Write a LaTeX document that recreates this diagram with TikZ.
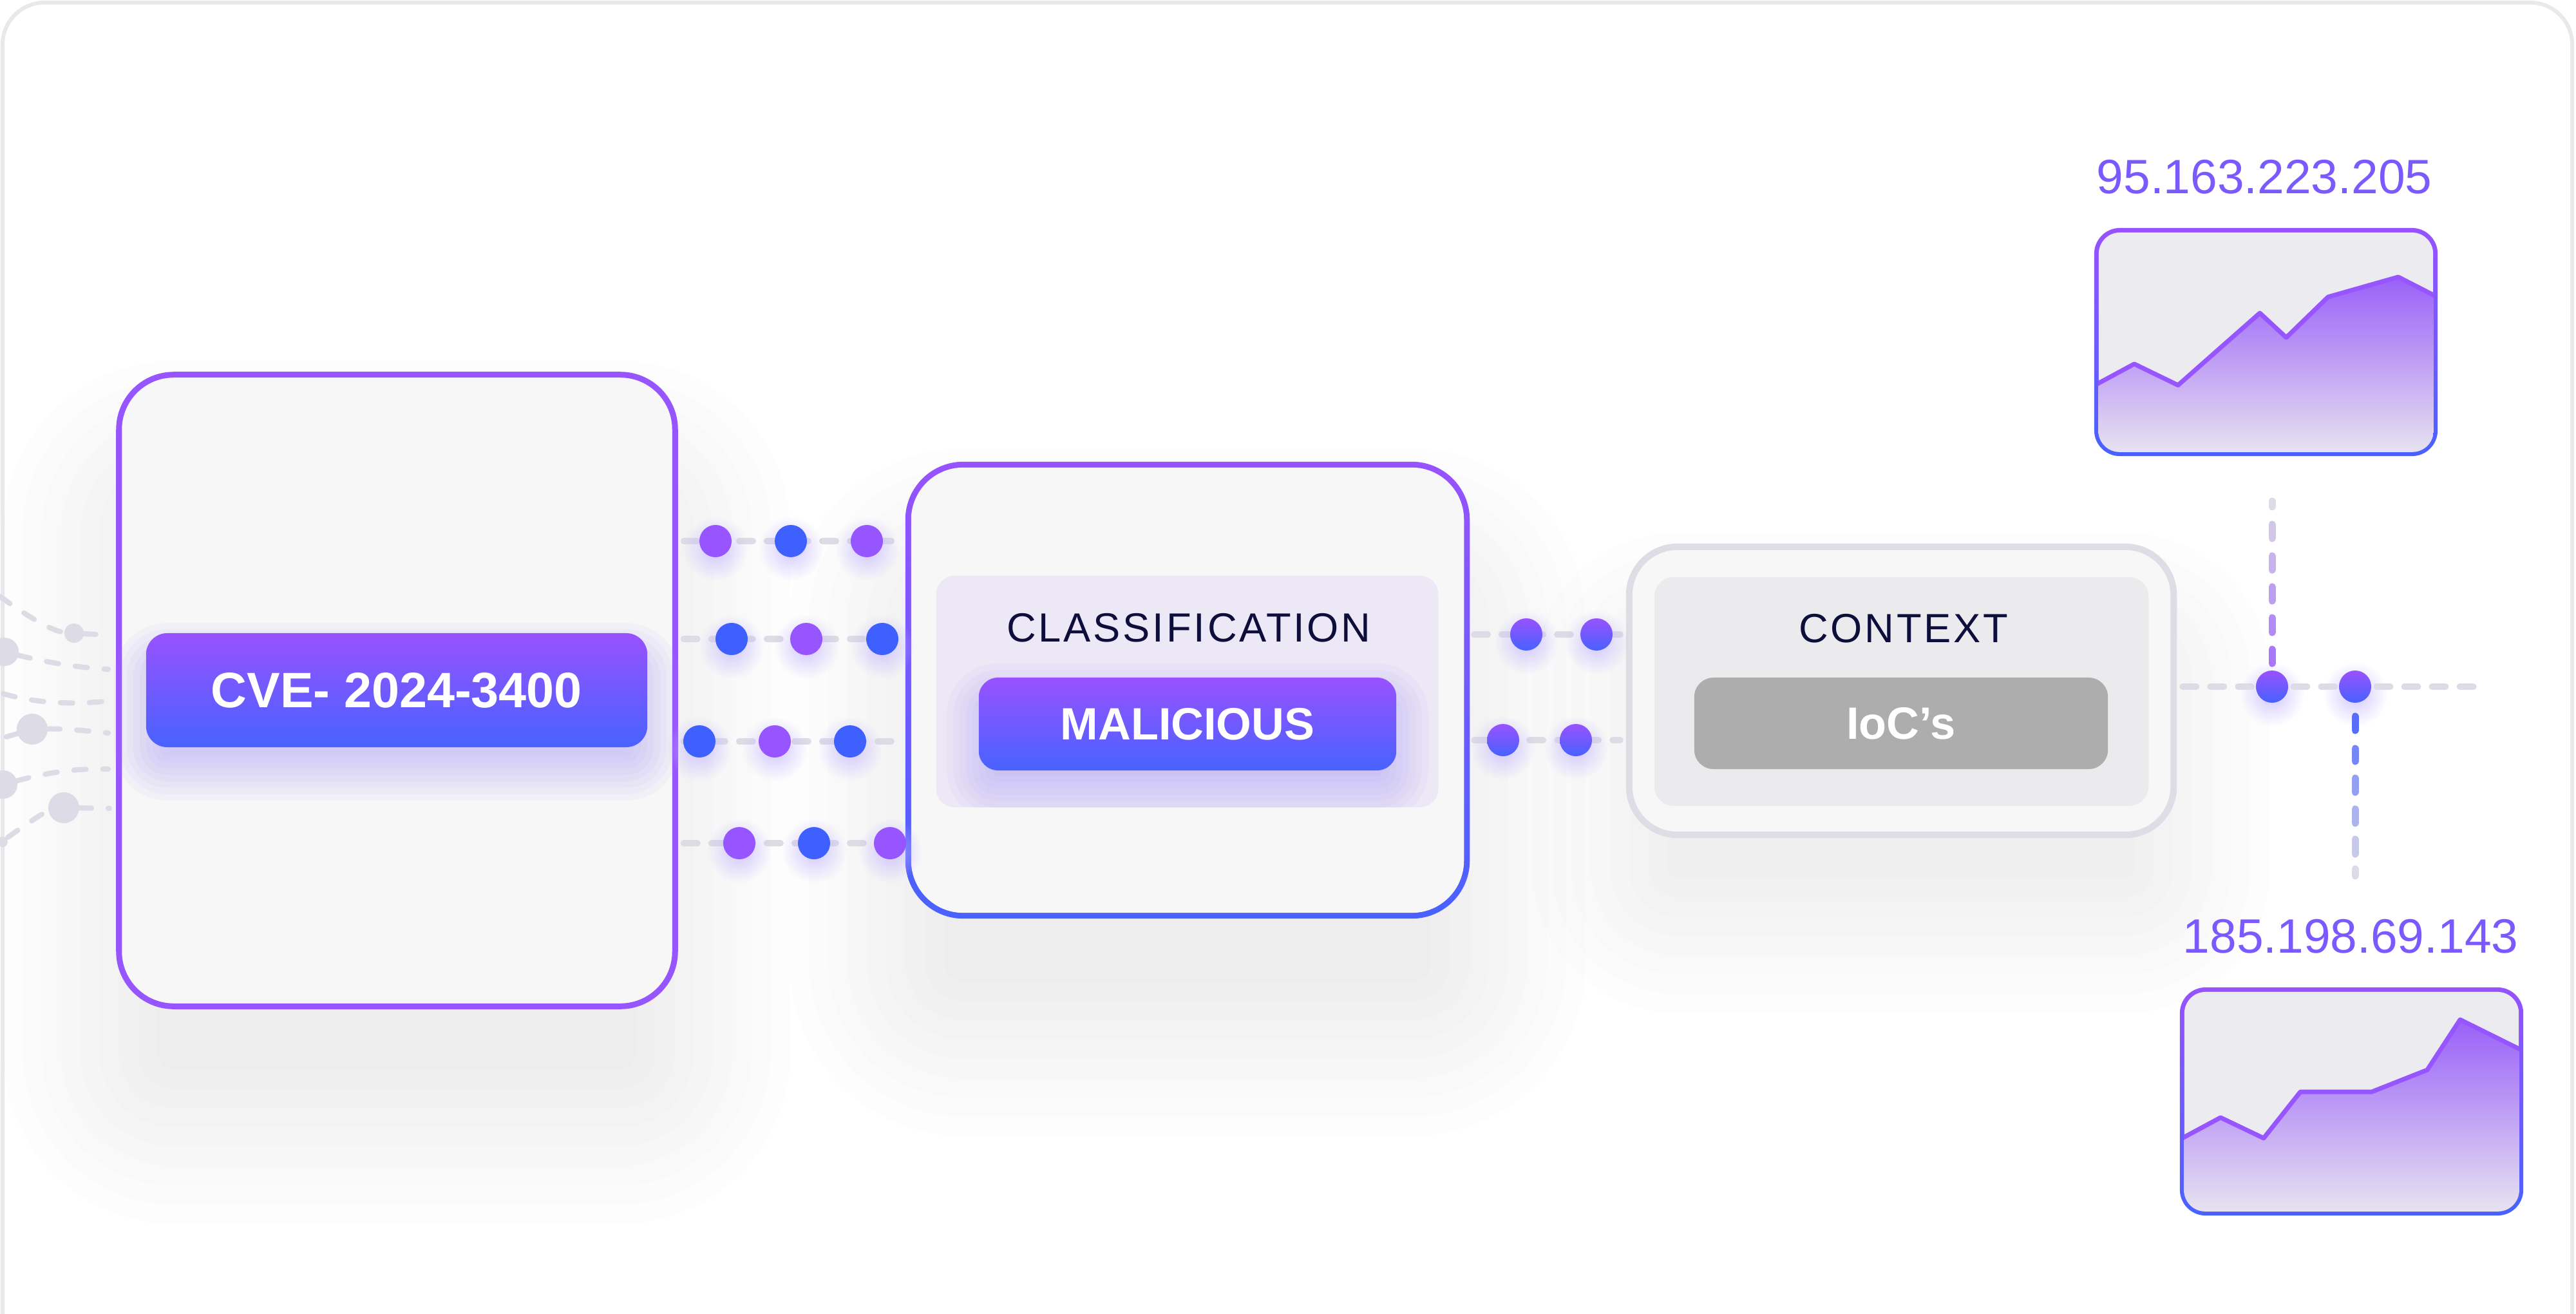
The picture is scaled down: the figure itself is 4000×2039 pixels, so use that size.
\documentclass[tikz,border=0pt]{standalone}
\usepackage{fontspec}
\setmainfont{Liberation Sans}
\usetikzlibrary{fadings,calc}

\definecolor{pv}{HTML}{9755FF}
\definecolor{pb}{HTML}{3D60FF}
\definecolor{gtop}{HTML}{9852FF}
\definecolor{gbot}{HTML}{4862FF}
\definecolor{dashgray}{HTML}{DDDBE5}
\definecolor{boxfill}{HTML}{F7F7F8}
\definecolor{panelv}{HTML}{ECE8F6}
\definecolor{panelg}{HTML}{EBEBEE}
\definecolor{ctxborder}{HTML}{DEDCE5}
\definecolor{navy}{HTML}{0E0E3C}
\definecolor{iocgray}{HTML}{ADADAD}
\definecolor{framecol}{HTML}{E9E9EC}
\definecolor{chartbg}{HTML}{ECEBF0}
\definecolor{ipcol}{HTML}{7A5AFF}
\definecolor{glowcol}{HTML}{C4B6FF}
\definecolor{pillglow}{HTML}{9C8CF5}
\definecolor{areatop}{HTML}{9A60F8}
\definecolor{areamid}{HTML}{D3C9F5}
\definecolor{shadowcol}{HTML}{8A8A99}

\tikzfading[name=glowfade, inner color=transparent!25, outer color=transparent!100]

\tikzset{
  conn/.style={dashgray, line width=0.1cm, line cap=round, dash pattern=on 0.21cm off 0.22cm},
  fanline/.style={dashgray, line width=0.08cm, line cap=round, dash pattern=on 0.19cm off 0.26cm},
  fdot/.style={circle, fill=dashgray, inner sep=0pt, outer sep=0pt},
  dotbase/.style={circle, minimum size=0.5cm, inner sep=0pt, outer sep=0pt},
  pdot/.style={dotbase, fill=pv},
  bdot/.style={dotbase, fill=pb},
  gdot/.style={dotbase, top color=gtop, bottom color=gbot},
  pill/.style={rectangle, top color=gtop, bottom color=gbot, inner sep=0pt, text=white},
  headtext/.style={text=navy, inner sep=0pt, font=\fontsize{18}{20}\selectfont\addfontfeature{LetterSpace=6}},
  iptext/.style={text=ipcol, inner sep=0pt, font=\fontsize{21.3}{24}\selectfont},
  arealine/.style={draw=pv, line width=0.07cm, line join=round},
  ring/.style={rectangle, top color=gtop, bottom color=gbot, inner sep=0pt},
}
\newcommand\glowat[1]{\fill[glowcol, path fading=glowfade] ($(#1)+(0,12)$) circle (50);}
% soft layered shadow: cx, cy, half width, half height, radius(px), colour, expansions, opacity
\newcommand\softrect[8]{%
  \foreach \e in {#7}{%
    \pgfmathsetmacro\rr{max(#5+\e,1)*0.01}%
    \fill[#6, opacity=#8, rounded corners=\rr cm] (#1-#3-\e, #2-#4-\e) rectangle (#1+#3+\e, #2+#4+\e);
  }%
}

\begin{document}
\begin{tikzpicture}[x=0.01cm, y=-0.01cm]
\useasboundingbox (0,0) rectangle (4000,2039);
\clip (0,0) rectangle (4000,2039);
\fill[white] (0,0) rectangle (4000,2039);
\draw[framecol, line width=0.06cm, rounded corners=0.65cm] (4,2200) -- (4,4) -- (3994,4) -- (3994,2200);

% ---- soft shadows of the boxes ----
\softrect{616}{1230}{431}{490}{85}{shadowcol}{-60,-30,0,30,60,90,120,150,180}{0.011}
\softrect{1844}{1230}{438}{354}{90}{shadowcol}{-60,-30,0,30,60,90,120,150,180}{0.011}
\softrect{2952}{1200}{422}{223}{75}{shadowcol}{-60,-30,0,30,60,90,120,150}{0.010}

% ---- left fan ----
\node[fdot, minimum size=0.30cm] (fa) at (115,983) {};
\node[fdot, minimum size=0.44cm] (fb) at (7,1012) {};
\node[fdot, minimum size=0.48cm] (fd) at (50,1132) {};
\node[fdot, minimum size=0.44cm] (fe) at (5,1218) {};
\node[fdot, minimum size=0.48cm] (ff) at (99,1254) {};
\node[fdot, minimum size=0.16cm] (fg) at (4,1307) {};
\coordinate (fsa) at (0,926);   \coordinate (fea) at (168,986);
\coordinate (feb) at (168,1039);
\coordinate (fsc) at (5,1077);  \coordinate (fec) at (170,1088);
\coordinate (fsd) at (10,1144); \coordinate (fed) at (168,1138);
\coordinate (fee) at (168,1194);
\coordinate (fsf) at (12,1300); \coordinate (fef) at (170,1255);
\draw[fanline] (fsa) .. controls (40,955) and (80,980) .. (fa) -- (fea);
\draw[fanline] (fb) .. controls (60,1025) and (110,1036) .. (feb);
\draw[fanline] (fsc) .. controls (60,1093) and (120,1094) .. (fec);
\draw[fanline] (fsd) -- (fd) .. controls (100,1131) and (140,1135) .. (fed);
\draw[fanline] (fe) .. controls (60,1203) and (110,1192) .. (fee);
\draw[fanline] (fsf) .. controls (40,1280) and (70,1260) .. (ff) -- (fef);

% ---- box 1 ----
\node[rectangle, rounded corners=0.85cm, draw=pv, line width=0.09cm, fill=boxfill,
      minimum width=8.63cm, minimum height=9.8cm] (b1) at (616.5,1072) {};
\softrect{616}{1105}{389}{88}{33}{pillglow}{-20,-10,0,10,20,30,40,50}{0.06}
\node[pill, rounded corners=0.33cm, minimum width=7.78cm, minimum height=1.77cm,
      font=\fontsize{22}{26}\selectfont\bfseries] (cve) at (616,1071.5) {CVE- 2024-3400};

% ---- box 2 ----
\node[ring, rounded corners=0.9cm, minimum width=8.76cm, minimum height=7.09cm] (b2o) at (1844,1071.5) {};
\node[rectangle, rounded corners=0.81cm, fill=boxfill, minimum width=8.58cm, minimum height=6.91cm] (b2) at (1844,1071.5) {};
\node[rectangle, rounded corners=0.28cm, fill=panelv, minimum width=7.79cm, minimum height=3.59cm] (p2) at (1843.5,1073.5) {};
\begin{scope}
  \clip[rounded corners=0.28cm] (p2.north west) rectangle (p2.south east);
  \softrect{1844}{1152}{324}{72}{30}{pillglow}{-20,-10,0,10,20,30,40,50}{0.055}
\end{scope}
\node[headtext, anchor=base] (cls) at (1846,996) {CLASSIFICATION};
\node[pill, rounded corners=0.3cm, minimum width=6.48cm, minimum height=1.44cm,
      font=\fontsize{20}{24}\selectfont\bfseries] (mal) at (1844,1124) {MALICIOUS};

% ---- box 3 ----
\node[rectangle, rounded corners=0.75cm, draw=ctxborder, line width=0.1cm, fill=boxfill,
      minimum width=8.45cm, minimum height=4.47cm] (b3) at (2952.5,1072.5) {};
\node[rectangle, rounded corners=0.3cm, fill=panelg, minimum width=7.67cm, minimum height=3.55cm] (p3) at (2952.5,1073.5) {};
\node[headtext, anchor=base] (ctx) at (2956,997) {CONTEXT};
\node[rectangle, rounded corners=0.3cm, fill=iocgray, minimum width=6.42cm, minimum height=1.42cm,
      text=white, inner sep=0pt, font=\fontsize{20}{24}\selectfont\bfseries] (ioc) at (2952,1123) {IoC’s};

% ---- connectors box1 -> box2 ----
\coordinate (y1) at (0,840); \coordinate (y2) at (0,992);
\coordinate (y3) at (0,1151); \coordinate (y4) at (0,1309);
\foreach \k in {1,2,3,4}
  \draw[conn] ($(b1.east |- y\k)+(9,0)$) -- ($(b2o.west |- y\k)+(-4,0)$);
\foreach \px/\py in {1111/840,1228/840,1346/840,1136/992,1252/992,1370/992,
                1086/1151,1203/1151,1320/1151,1148/1309,1264/1309,1382/1309}{
  \coordinate (gtmp) at (\px,\py);
  \glowat{gtmp}
}
\node[pdot] (d11) at (1111,840) {};
\node[bdot] (d12) at (1228,840) {};
\node[pdot] (d13) at (1346,840) {};
\node[bdot] (d21) at (1136,992) {};
\node[pdot] (d22) at (1252,992) {};
\node[bdot] (d23) at (1370,992) {};
\node[bdot] (d31) at (1086,1151) {};
\node[pdot] (d32) at (1203,1151) {};
\node[bdot] (d33) at (1320,1151) {};
\node[pdot] (d41) at (1148,1309) {};
\node[bdot] (d42) at (1264,1309) {};
\node[pdot] (d43) at (1382,1309) {};

% ---- connectors box2 -> box3 ----
\coordinate (z1) at (0,985); \coordinate (z2) at (0,1149);
\foreach \k in {1,2}
  \draw[conn] ($(b2o.east |- z\k)+(6,0)$) -- ($(b3.west |- z\k)+(-9,0)$);
\foreach \px/\py in {2370/985,2479/985,2334/1149,2447/1149,3528/1066,3657/1066}{
  \coordinate (gtmp) at (\px,\py);
  \glowat{gtmp}
}

% ---- right side ----
\coordinate (hy) at (0,1066);
\coordinate (hend) at (3846,1066);
\draw[conn] ($(b3.east |- hy)+(9,0)$) -- (hend);
\coordinate (vtop) at (3528,772);
\coordinate (vbot) at (3657,1366);
\foreach \a/\b/\c in {778/787/0,814/836/15,863/885/30,911/933/45,959/982/60,1008/1030/75}
  \draw[line width=0.11cm, line cap=round, pv!\c!dashgray] (vtop |- 0,\a) -- (vtop |- 0,\b);
\foreach \a/\b/\c in {1112/1134/90,1162/1182/70,1208/1230/50,1256/1278/32,1303/1326/15,1349/1360/0}
  \draw[line width=0.11cm, line cap=round, gbot!\c!dashgray] (vbot |- 0,\a) -- (vbot |- 0,\b);

\node[gdot] (e11) at (2370,985) {};
\node[gdot] (e12) at (2479,985) {};
\node[gdot] (e21) at (2334,1149) {};
\node[gdot] (e22) at (2447,1149) {};
\node[gdot] (q1) at (3528,1066) {};
\node[gdot] (q2) at (3657,1066) {};

% ---- chart 1 ----
\node[iptext, anchor=base] (ip1) at (3516,300) {95.163.223.205};
\node[ring, rounded corners=0.4cm, minimum width=5.33cm, minimum height=3.54cm] (c1o) at (3518.5,531) {};
\node[rectangle, rounded corners=0.33cm, fill=chartbg, minimum width=5.19cm, minimum height=3.40cm] (c1) at (3518.5,531) {};
\begin{scope}
  \clip[rounded corners=0.33cm] (c1.north west) rectangle (c1.south east);
  \shade[top color=areatop, middle color=areamid, bottom color=chartbg]
    (3240,605) -- (3314,565) -- (3382,598) -- (3509,486) -- (3550,524) -- (3615,461)
    -- (3724,430) -- (3800,469) -- (3800,720) -- (3240,720) -- cycle;
  \draw[arealine] (3240,605) -- (3314,565) -- (3382,598) -- (3509,486) -- (3550,524)
    -- (3615,461) -- (3724,430) -- (3800,469);
\end{scope}

% ---- chart 2 ----
\node[iptext, anchor=base] (ip2) at (3650,1479) {185.198.69.143};
\node[ring, rounded corners=0.4cm, minimum width=5.33cm, minimum height=3.54cm] (c2o) at (3651.5,1710) {};
\node[rectangle, rounded corners=0.33cm, fill=chartbg, minimum width=5.19cm, minimum height=3.40cm] (c2) at (3651.5,1710) {};
\begin{scope}
  \clip[rounded corners=0.33cm] (c2.north west) rectangle (c2.south east);
  \shade[top color=areatop, middle color=areamid, bottom color=chartbg]
    (3370,1777) -- (3448,1735) -- (3515,1767) -- (3572,1695) -- (3683,1695) -- (3769,1661)
    -- (3820,1583) -- (3935,1640) -- (3935,1900) -- (3370,1900) -- cycle;
  \draw[arealine] (3370,1777) -- (3448,1735) -- (3515,1767) -- (3572,1695) -- (3683,1695)
    -- (3769,1661) -- (3820,1583) -- (3935,1640);
\end{scope}
\end{tikzpicture}
\end{document}
